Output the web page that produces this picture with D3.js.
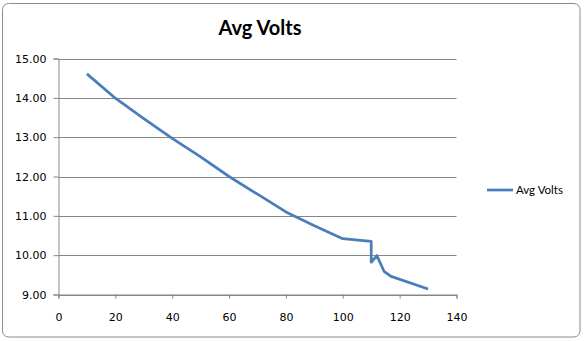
<!DOCTYPE html>
<html><head><meta charset="utf-8">
<script src="https://cdn.jsdelivr.net/npm/d3@7"></script>
<style>html,body{margin:0;padding:0;background:#fff;}svg{display:block;}</style>
</head><body>
<script>
const xValues = [10, 20, 30, 40, 50, 60, 70, 80, 90, 100, 110, 110, 112, 114.5, 117, 130];
const avgVolts = [14.61, 13.99, 13.47, 12.97, 12.5, 12.0, 11.55, 11.1, 10.75, 10.42, 10.35, 9.82, 9.99, 9.59, 9.46, 9.14];
const xTicks = [0, 20, 40, 60, 80, 100, 120, 140];
const yTicks = [9, 10, 11, 12, 13, 14, 15];
const seriesName = "Avg Volts";
const title = "Avg Volts";

const W = 584, H = 341;
const svg = d3.select("body").append("svg").attr("width", W).attr("height", H);

svg.append("rect").attr("x",0).attr("y",0).attr("width",W).attr("height",H).attr("fill","#fff");
// chart frame
svg.append("rect").attr("x",2.5).attr("y",3.5).attr("width",577.5).attr("height",333.5)
  .attr("rx",6).attr("fill","#fff").attr("stroke","#8c8c8c").attr("stroke-width",1);

const x = d3.scaleLinear().domain([0,140]).range([58.5,456.5]);
const y = d3.scaleLinear().domain([9,15]).range([294.5,58.5]);

// gridlines
svg.append("g").selectAll("line").data(yTicks).join("line")
  .attr("x1", x(0)).attr("x2", x(140))
  .attr("y1", d=>Math.round(y(d))+0.5).attr("y2", d=>Math.round(y(d))+0.5)
  .attr("stroke","#868686").attr("stroke-width",1);

const yAxis = svg.append("g").attr("transform",`translate(${x(0)},0)`)
  .call(d3.axisLeft(y).tickValues(yTicks).tickSize(5).tickPadding(7).tickFormat(d3.format(".2f")));
const xAxis = svg.append("g").attr("transform",`translate(0,${y(9)})`)
  .call(d3.axisBottom(x).tickValues(xTicks).tickSize(4).tickPadding(15).tickFormat(d3.format("d")));
[yAxis,xAxis].forEach(a=>{
  a.selectAll("path").attr("stroke","#868686");
  a.selectAll("line").attr("stroke","#868686");
  a.selectAll("text").attr("font-family","'DejaVu Sans', Verdana, sans-serif").attr("font-size","11px").attr("fill","#000");
});

const line = d3.line().x((d,i)=>x(xValues[i])).y(d=>y(d));
svg.append("path").datum(avgVolts).attr("d", line)
  .attr("fill","none").attr("stroke","#4a7ebb").attr("stroke-width",2.75)
  .attr("stroke-linejoin","round").attr("stroke-linecap","butt");

svg.append("text").attr("x",260).attr("y",35).attr("text-anchor","middle")
  .attr("font-family","Lato, 'Open Sans', sans-serif").attr("font-weight","bold")
  .attr("font-size","20px").attr("fill","#000").text(title);

svg.append("line").attr("x1",487).attr("x2",513).attr("y1",190).attr("y2",190)
  .attr("stroke","#4a7ebb").attr("stroke-width",2.75);
svg.append("text").attr("x",516).attr("y",194).attr("font-family","Lato, 'Liberation Sans', sans-serif")
  .attr("font-size","11.5px").attr("fill","#000").text(seriesName);
</script>
</body></html>
